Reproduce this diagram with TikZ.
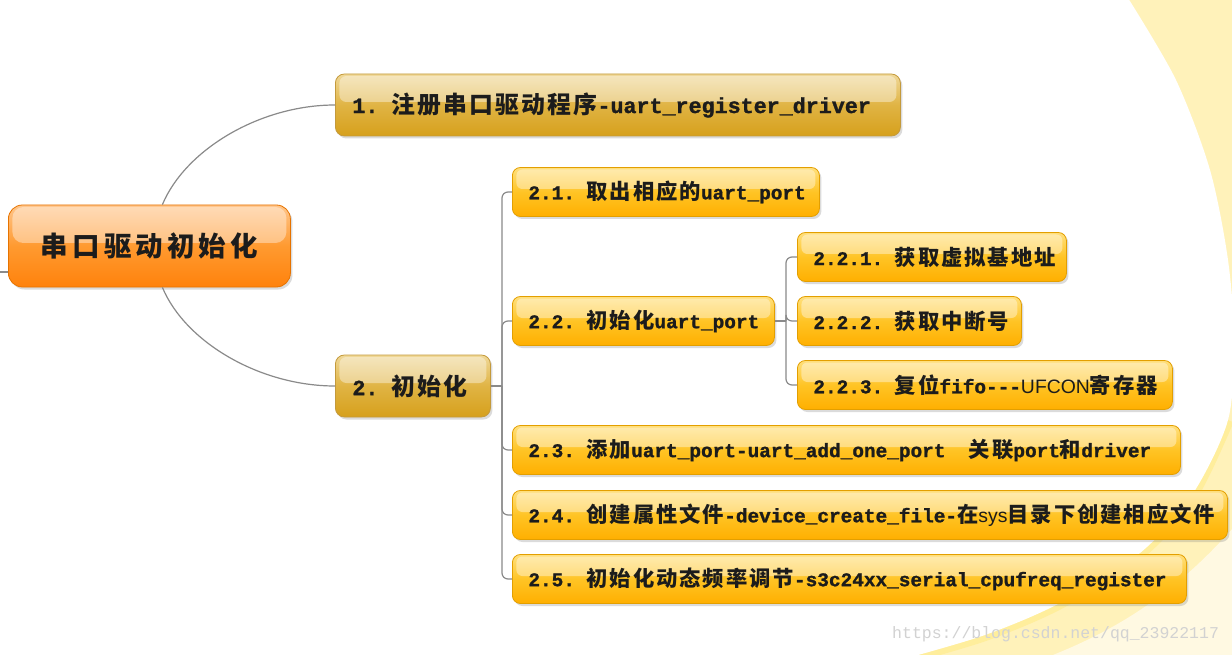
\documentclass[tikz,border=0pt]{standalone}
\usepackage{fontspec}
\usetikzlibrary{shadows}
\setmonofont{Liberation Mono}[BoldFeatures={FakeBold=1.2}]
\newfontfamily\cjk{Noto Sans CJK SC}[Scale=1.1,LetterSpace=9]
\newfontfamily\cjkroot{Noto Sans CJK SC}[Scale=1.1,LetterSpace=15]
\newfontfamily\lsans{Liberation Sans}
\newfontfamily\wmfont{Liberation Mono}
\newcommand\zh[1]{{\cjk #1}}
\newcommand\ls[1]{{\lsans\mdseries #1}}
\newcommand\hs{\kern0.6em\relax}
\definecolor{txt}{HTML}{1C1C1C}
\definecolor{bgyel}{HTML}{FFF2BA}
\definecolor{bgpale}{HTML}{FFF9E2}
\definecolor{bgstripe}{HTML}{FFEE9C}
\definecolor{lthreetop}{HTML}{FFE07E}
\definecolor{lthreemid}{HTML}{FFC425}
\definecolor{lthreebot}{HTML}{FFAF00}
\definecolor{lthreeborder}{HTML}{E39F00}
\definecolor{goldtop}{HTML}{F0D898}
\definecolor{goldmid}{HTML}{E0B444}
\definecolor{goldbot}{HTML}{D6A01C}
\definecolor{goldborder}{HTML}{C49A3C}
\definecolor{roottop}{HTML}{FFC68C}
\definecolor{rootmid}{HTML}{FF9A30}
\definecolor{rootbot}{HTML}{FF820C}
\definecolor{rootborder}{HTML}{E67300}
\definecolor{conncol}{HTML}{8A8A8A}
\definecolor{wmcol}{HTML}{D2D2D2}
\tikzset{
  gloss/.style={path picture={
      \fill[white,opacity=.38,rounded corners=#1]
        ([xshift=4pt,yshift=-2pt]path picture bounding box.north west)
        rectangle ([xshift=-4pt,yshift=3pt]path picture bounding box.east);}},
  boxbase/.style={anchor=west, inner ysep=0pt, text=txt, align=left,
      line width=0.8pt,
      drop shadow={shadow xshift=2pt, shadow yshift=-2.5pt, opacity=.28}},
  lvthree/.style={boxbase, rounded corners=8pt, draw=lthreeborder,
      top color=lthreetop, bottom color=lthreebot, middle color=lthreemid,
      gloss=6pt, inner xsep=16pt, minimum height=49pt,
      font=\frenchspacing\fontsize{19.4}{22}\selectfont\ttfamily\bfseries},
  lvtwo/.style={boxbase, rounded corners=9pt, draw=goldborder,
      top color=goldtop, bottom color=goldbot, middle color=goldmid,
      gloss=7pt, inner xsep=17pt, minimum height=62pt,
      font=\frenchspacing\fontsize{21.7}{24}\selectfont\ttfamily\bfseries},
  rootbox/.style={boxbase, rounded corners=14pt, draw=rootborder,
      top color=roottop, bottom color=rootbot, middle color=rootmid,
      gloss=11pt, inner xsep=0pt, minimum height=82pt, align=center,
      font=\fontsize{25}{30}\selectfont\bfseries},
  conn/.style={draw=conncol, line width=1.2pt},
  branch/.style={conn, rounded corners=6pt},
  wmark/.style={anchor=west, inner sep=0pt, text=wmcol,
      font=\fontsize{16.5}{18}\selectfont\wmfont}
}
\begin{document}
\begin{tikzpicture}[x=1pt,y=-1pt]
\useasboundingbox (0,0) rectangle (1232,655);
% background
\fill[bgyel] (0,0) rectangle (1232,655);
\fill[bgpale] (1240,520) .. controls (1180,590) and (1120,630) .. (1040,660) -- (1240,660) -- cycle;
\draw[bgstripe, line width=12pt] plot[smooth] coordinates
  {(1228,420) (1192,495) (1140,553) (1060,603) (985,635) (900,660)};
\fill[white] (-5,-5) -- plot[smooth] coordinates
  {(1128,-2) (1176,80) (1210,170) (1228,260) (1234,340) (1228,420)
   (1192,495) (1140,553) (1060,603) (985,635) (900,660)}
  -- (-5,660) -- cycle;

% nodes
\node[rootbox, text width=282pt] (root) at (8,246) {{\cjkroot 串口驱动初始化}};
\node[lvtwo, text width=531pt] (n1) at (335,105)
  {\mbox{1.\hs\zh{注册串口驱动程序}-uart\_register\_driver}};
\node[lvtwo, text width=121pt] (n2) at (335,386) {\mbox{2.\hs\zh{初始化}}};
\node[lvthree, text width=275pt] (n21) at (512,192)
  {\mbox{2.1.\hs\zh{取出相应的}uart\_port}};
\node[lvthree, text width=230pt] (n22) at (512,321)
  {\mbox{2.2.\hs\zh{初始化}uart\_port}};
\node[lvthree, text width=237pt] (n221) at (797,257)
  {\mbox{2.2.1.\hs\zh{获取虚拟基地址}}};
\node[lvthree, text width=192pt] (n222) at (797,321)
  {\mbox{2.2.2.\hs\zh{获取中断号}}};
\node[lvthree, text width=343pt] (n223) at (797,385)
  {\mbox{2.2.3.\hs\zh{复位}fifo-{}-{}-\ls{UFCON}\zh{寄存器}}};
\node[lvthree, text width=636pt] (n23) at (512,450)
  {\mbox{2.3.\hs\zh{添加}uart\_port-uart\_add\_one\_port\hs\hs\zh{关联}port\zh{和}driver}};
\node[lvthree, text width=683pt] (n24) at (512,515)
  {\mbox{2.4.\hs\zh{创建属性文件}-device\_create\_file-\zh{在}\ls{sys}\zh{目录下创建相应文件}}};
\node[lvthree, text width=642pt] (n25) at (512,579)
  {\mbox{2.5.\hs\zh{初始化动态频率调节}-s3c24xx\_serial\_cpufreq\_register}};

% watermark
\node[wmark] (wm) at (892,634) {https://blog.csdn.net/qq\_23922117};

% connectors
\coordinate (stub) at (0,272);
\draw[conn] (stub) -- (stub -| root.west);
\draw[conn] ([xshift=13pt]root.north) .. controls +(23,-55) and +(-75,0) .. (n1.west);
\draw[conn] ([xshift=13pt]root.south) .. controls +(23,55) and +(-75,0) .. (n2.west);

\coordinate (t2) at (502,386);
\draw[conn] (n2.east) -- (t2);
\foreach \c in {n21,n22,n23,n24,n25}
  \draw[branch] (t2) |- (\c.west);

\coordinate (t22) at (786,321);
\draw[conn] (n22.east) -- (t22);
\foreach \c in {n221,n222,n223}
  \draw[branch] (t22) |- (\c.west);
\end{tikzpicture}
\end{document}
